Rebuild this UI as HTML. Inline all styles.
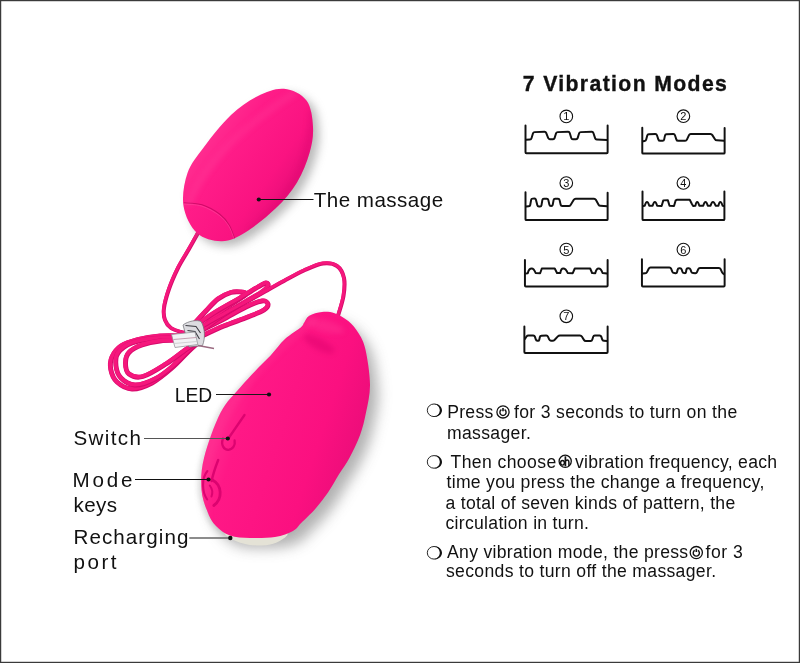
<!DOCTYPE html>
<html><head><meta charset="utf-8">
<style>
html,body{margin:0;padding:0;background:#fff;}
body{width:800px;height:663px;overflow:hidden;position:relative;}
svg{position:absolute;left:0;top:0;will-change:transform;}
</style></head>
<body>
<svg width="800" height="663" viewBox="0 0 800 663" font-family="Liberation Sans, sans-serif">
<defs>
  <linearGradient id="egg1" gradientUnits="userSpaceOnUse" x1="200" y1="132" x2="298" y2="199">
    <stop offset="0" stop-color="#ff3493"/>
    <stop offset="0.3" stop-color="#ff1c88"/>
    <stop offset="0.7" stop-color="#fa1381"/>
    <stop offset="1" stop-color="#e30c76"/>
  </linearGradient>
  <linearGradient id="egg2" gradientUnits="userSpaceOnUse" x1="205" y1="398" x2="370" y2="452">
    <stop offset="0" stop-color="#ff3896"/>
    <stop offset="0.25" stop-color="#ff1886"/>
    <stop offset="0.7" stop-color="#fb1080"/>
    <stop offset="1" stop-color="#e80c78"/>
  </linearGradient>
  <filter id="blur4" x="-30%" y="-30%" width="160%" height="160%"><feGaussianBlur stdDeviation="5"/></filter>
  <filter id="blur2" x="-50%" y="-50%" width="200%" height="200%"><feGaussianBlur stdDeviation="2.5"/></filter>
  <filter id="blur1" x="-50%" y="-50%" width="200%" height="200%"><feGaussianBlur stdDeviation="0.6"/></filter>
  <filter id="blur7" x="-40%" y="-40%" width="180%" height="180%"><feGaussianBlur stdDeviation="7"/></filter>
</defs>

<rect x="0" y="0" width="800" height="663" fill="#fff"/>
<!-- cords -->
<g fill="none" stroke-linecap="round" stroke-linejoin="round">
  <path d="M183.0,336.0 C179.2,336.0 167.5,335.4 160.0,336.0 C152.5,336.6 144.5,337.8 138.0,339.5 C131.5,341.2 125.3,343.1 121.0,346.0 C116.7,348.9 113.7,353.1 112.0,357.0 C110.3,360.9 110.0,365.3 110.8,369.5 C111.6,373.7 113.5,378.8 117.0,382.0 C120.5,385.2 126.2,388.8 132.0,389.0 C137.8,389.2 145.3,386.5 152.0,383.0 C158.7,379.5 166.0,373.2 172.0,368.0 C178.0,362.8 183.7,356.2 188.0,352.0 C192.3,347.8 196.3,344.5 198.0,343.0" stroke="#d60a6c" stroke-width="4.9"/>
  <path d="M183.0,336.0 C179.2,336.0 167.5,335.4 160.0,336.0 C152.5,336.6 144.5,337.8 138.0,339.5 C131.5,341.2 125.3,343.1 121.0,346.0 C116.7,348.9 113.7,353.1 112.0,357.0 C110.3,360.9 110.0,365.3 110.8,369.5 C111.6,373.7 113.5,378.8 117.0,382.0 C120.5,385.2 126.2,388.8 132.0,389.0 C137.8,389.2 145.3,386.5 152.0,383.0 C158.7,379.5 166.0,373.2 172.0,368.0 C178.0,362.8 183.7,356.2 188.0,352.0 C192.3,347.8 196.3,344.5 198.0,343.0" stroke="#f5177c" stroke-width="3.8" transform="translate(-0.3,-0.4)"/>
  <path d="M183.0,338.0 C178.3,338.1 163.5,337.7 155.0,338.5 C146.5,339.3 138.2,340.6 132.0,343.0 C125.8,345.4 120.7,349.2 118.0,353.0 C115.3,356.8 115.5,361.8 116.0,366.0 C116.5,370.2 117.8,374.8 121.0,378.0 C124.2,381.2 129.3,384.8 135.0,385.0 C140.7,385.2 148.7,382.2 155.0,379.0 C161.3,375.8 166.7,371.5 173.0,366.0 C179.3,360.5 189.7,349.3 193.0,346.0" stroke="#d60a6c" stroke-width="4.9"/>
  <path d="M183.0,338.0 C178.3,338.1 163.5,337.7 155.0,338.5 C146.5,339.3 138.2,340.6 132.0,343.0 C125.8,345.4 120.7,349.2 118.0,353.0 C115.3,356.8 115.5,361.8 116.0,366.0 C116.5,370.2 117.8,374.8 121.0,378.0 C124.2,381.2 129.3,384.8 135.0,385.0 C140.7,385.2 148.7,382.2 155.0,379.0 C161.3,375.8 166.7,371.5 173.0,366.0 C179.3,360.5 189.7,349.3 193.0,346.0" stroke="#f5177c" stroke-width="3.8" transform="translate(-0.3,-0.4)"/>
  <path d="M183.0,340.0 C179.2,340.2 166.8,340.2 160.0,341.0 C153.2,341.8 147.2,343.1 142.0,345.0 C136.8,346.9 131.8,349.5 129.0,352.5 C126.2,355.5 125.5,359.4 125.5,363.0 C125.5,366.6 126.1,371.8 129.0,374.0 C131.9,376.2 136.8,378.2 143.0,376.5 C149.2,374.8 158.8,368.5 166.0,364.0 C173.2,359.5 180.7,353.2 186.0,349.5 C191.3,345.8 196.0,343.2 198.0,342.0" stroke="#d60a6c" stroke-width="4.9"/>
  <path d="M183.0,340.0 C179.2,340.2 166.8,340.2 160.0,341.0 C153.2,341.8 147.2,343.1 142.0,345.0 C136.8,346.9 131.8,349.5 129.0,352.5 C126.2,355.5 125.5,359.4 125.5,363.0 C125.5,366.6 126.1,371.8 129.0,374.0 C131.9,376.2 136.8,378.2 143.0,376.5 C149.2,374.8 158.8,368.5 166.0,364.0 C173.2,359.5 180.7,353.2 186.0,349.5 C191.3,345.8 196.0,343.2 198.0,342.0" stroke="#f5177c" stroke-width="3.8" transform="translate(-0.3,-0.4)"/>
  <path d="M194.0,324.0 C196.0,321.8 202.0,315.2 206.0,311.0 C210.0,306.8 213.8,302.1 218.0,299.0 C222.2,295.9 227.2,293.7 231.0,292.5 C234.8,291.3 238.5,291.8 241.0,292.0 C243.5,292.2 246.5,292.7 246.0,294.0 C245.5,295.3 242.7,296.7 238.0,300.0 C233.3,303.3 224.3,309.0 218.0,314.0 C211.7,319.0 203.0,327.3 200.0,330.0" stroke="#d60a6c" stroke-width="4.9"/>
  <path d="M194.0,324.0 C196.0,321.8 202.0,315.2 206.0,311.0 C210.0,306.8 213.8,302.1 218.0,299.0 C222.2,295.9 227.2,293.7 231.0,292.5 C234.8,291.3 238.5,291.8 241.0,292.0 C243.5,292.2 246.5,292.7 246.0,294.0 C245.5,295.3 242.7,296.7 238.0,300.0 C233.3,303.3 224.3,309.0 218.0,314.0 C211.7,319.0 203.0,327.3 200.0,330.0" stroke="#f5177c" stroke-width="3.8" transform="translate(-0.3,-0.4)"/>
  <path d="M198.0,332.0 C202.0,330.0 214.0,324.2 222.0,320.0 C230.0,315.8 239.3,310.2 246.0,307.0 C252.7,303.8 258.3,301.5 262.0,301.0 C265.7,300.5 267.7,302.5 268.0,304.0 C268.3,305.5 267.3,307.8 264.0,310.0 C260.7,312.2 254.7,314.3 248.0,317.0 C241.3,319.7 231.3,323.0 224.0,326.0 C216.7,329.0 207.3,333.5 204.0,335.0" stroke="#d60a6c" stroke-width="4.9"/>
  <path d="M198.0,332.0 C202.0,330.0 214.0,324.2 222.0,320.0 C230.0,315.8 239.3,310.2 246.0,307.0 C252.7,303.8 258.3,301.5 262.0,301.0 C265.7,300.5 267.7,302.5 268.0,304.0 C268.3,305.5 267.3,307.8 264.0,310.0 C260.7,312.2 254.7,314.3 248.0,317.0 C241.3,319.7 231.3,323.0 224.0,326.0 C216.7,329.0 207.3,333.5 204.0,335.0" stroke="#f5177c" stroke-width="3.8" transform="translate(-0.3,-0.4)"/>
  <path d="M194.0,327.0 C197.3,324.7 206.3,317.8 214.0,313.0 C221.7,308.2 232.7,302.3 240.0,298.0 C247.3,293.7 253.7,289.5 258.0,287.0 C262.3,284.5 264.3,283.2 266.0,283.0 C267.7,282.8 268.7,284.5 268.0,286.0 C267.3,287.5 265.8,289.3 262.0,292.0 C258.2,294.7 251.7,298.0 245.0,302.0 C238.3,306.0 228.8,311.5 222.0,316.0 C215.2,320.5 207.0,326.8 204.0,329.0" stroke="#d60a6c" stroke-width="4.9"/>
  <path d="M194.0,327.0 C197.3,324.7 206.3,317.8 214.0,313.0 C221.7,308.2 232.7,302.3 240.0,298.0 C247.3,293.7 253.7,289.5 258.0,287.0 C262.3,284.5 264.3,283.2 266.0,283.0 C267.7,282.8 268.7,284.5 268.0,286.0 C267.3,287.5 265.8,289.3 262.0,292.0 C258.2,294.7 251.7,298.0 245.0,302.0 C238.3,306.0 228.8,311.5 222.0,316.0 C215.2,320.5 207.0,326.8 204.0,329.0" stroke="#f5177c" stroke-width="3.8" transform="translate(-0.3,-0.4)"/>
  <path d="M198.0,233.0 C196.5,235.7 192.3,243.2 189.0,249.0 C185.7,254.8 181.3,261.3 178.0,268.0 C174.7,274.7 171.3,282.3 169.0,289.0 C166.7,295.7 164.7,302.8 164.0,308.0 C163.3,313.2 163.8,316.7 165.0,320.0 C166.2,323.3 168.3,326.0 171.0,328.0 C173.7,330.0 177.5,331.0 181.0,332.0 C184.5,333.0 190.2,333.7 192.0,334.0" stroke="#d60a6c" stroke-width="4.0"/>
  <path d="M198.0,233.0 C196.5,235.7 192.3,243.2 189.0,249.0 C185.7,254.8 181.3,261.3 178.0,268.0 C174.7,274.7 171.3,282.3 169.0,289.0 C166.7,295.7 164.7,302.8 164.0,308.0 C163.3,313.2 163.8,316.7 165.0,320.0 C166.2,323.3 168.3,326.0 171.0,328.0 C173.7,330.0 177.5,331.0 181.0,332.0 C184.5,333.0 190.2,333.7 192.0,334.0" stroke="#f5177c" stroke-width="3.0" transform="translate(-0.3,-0.4)"/>
  <path d="M338.0,316.0 C338.9,312.7 342.5,302.3 343.5,296.0 C344.5,289.7 345.1,283.0 344.0,278.0 C342.9,273.0 340.5,268.4 337.0,266.0 C333.5,263.6 328.5,262.8 323.0,263.5 C317.5,264.2 310.5,267.6 304.0,270.5 C297.5,273.4 290.3,277.6 284.0,281.0 C277.7,284.4 271.7,287.8 266.0,291.0 C260.3,294.2 256.3,296.5 250.0,300.0 C243.7,303.5 235.5,307.8 228.0,312.0 C220.5,316.2 211.0,321.7 205.0,325.0 C199.0,328.3 194.2,330.8 192.0,332.0" stroke="#d60a6c" stroke-width="4.0"/>
  <path d="M338.0,316.0 C338.9,312.7 342.5,302.3 343.5,296.0 C344.5,289.7 345.1,283.0 344.0,278.0 C342.9,273.0 340.5,268.4 337.0,266.0 C333.5,263.6 328.5,262.8 323.0,263.5 C317.5,264.2 310.5,267.6 304.0,270.5 C297.5,273.4 290.3,277.6 284.0,281.0 C277.7,284.4 271.7,287.8 266.0,291.0 C260.3,294.2 256.3,296.5 250.0,300.0 C243.7,303.5 235.5,307.8 228.0,312.0 C220.5,316.2 211.0,321.7 205.0,325.0 C199.0,328.3 194.2,330.8 192.0,332.0" stroke="#f5177c" stroke-width="3.0" transform="translate(-0.3,-0.4)"/>
</g>
<g id="clip">
  <path d="M183,325 C188,321 197,319.5 201,321.5 C205,328 205.5,338 202.5,345.5 L189,347 Z" fill="#dcdce0" stroke="#6a6a70" stroke-width="0.7"/>
  <path d="M185.5,325.5 L196,326.5 L200.5,333 M187.5,330.5 L195,331.5 L199.5,339" fill="none" stroke="#3c3c42" stroke-width="1.1"/>
  <path d="M171.5,334.5 L195,332 L197.8,344.5 L175,347.5 Z" fill="#f2f2f4" stroke="#8c8c92" stroke-width="0.7"/>
  <path d="M173.5,339.5 L196.2,337.5" stroke="#b98aa0" stroke-width="0.8"/>
  <path d="M174,343.5 L197,341.5" stroke="#c8c8cc" stroke-width="0.8"/>
  <path d="M198,345.5 L214,348.5" stroke="#9a6a80" stroke-width="1.3"/>
</g>
<!-- small egg -->
<g id="smallegg">
  <path d="M284.0,88.8 C292.1,89.5 301.7,94.1 306.5,100.5 C311.3,106.9 312.5,118.2 313.0,127.0 C313.5,135.8 312.2,143.8 309.5,153.0 C306.8,162.2 302.6,173.3 297.0,182.5 C291.4,191.7 284.5,199.9 276.0,208.1 C267.5,216.3 255.0,226.4 246.0,231.9 C237.0,237.4 230.2,241.0 222.0,241.2 C213.8,241.4 203.4,238.9 197.0,233.0 C190.6,227.1 185.1,216.0 183.5,206.0 C181.9,196.0 184.1,182.8 187.5,173.0 C190.9,163.2 196.8,156.7 204.0,147.0 C211.2,137.3 222.0,123.5 231.0,115.0 C240.0,106.5 249.2,100.4 258.0,96.0 C266.8,91.6 275.9,88.0 284.0,88.8 Z" fill="#777" opacity="0.5" transform="translate(6,5)" filter="url(#blur4)"/>
  <path d="M284.0,88.8 C292.1,89.5 301.7,94.1 306.5,100.5 C311.3,106.9 312.5,118.2 313.0,127.0 C313.5,135.8 312.2,143.8 309.5,153.0 C306.8,162.2 302.6,173.3 297.0,182.5 C291.4,191.7 284.5,199.9 276.0,208.1 C267.5,216.3 255.0,226.4 246.0,231.9 C237.0,237.4 230.2,241.0 222.0,241.2 C213.8,241.4 203.4,238.9 197.0,233.0 C190.6,227.1 185.1,216.0 183.5,206.0 C181.9,196.0 184.1,182.8 187.5,173.0 C190.9,163.2 196.8,156.7 204.0,147.0 C211.2,137.3 222.0,123.5 231.0,115.0 C240.0,106.5 249.2,100.4 258.0,96.0 C266.8,91.6 275.9,88.0 284.0,88.8 Z" fill="url(#egg1)"/>
  <clipPath id="smallclip"><path d="M284.0,88.8 C292.1,89.5 301.7,94.1 306.5,100.5 C311.3,106.9 312.5,118.2 313.0,127.0 C313.5,135.8 312.2,143.8 309.5,153.0 C306.8,162.2 302.6,173.3 297.0,182.5 C291.4,191.7 284.5,199.9 276.0,208.1 C267.5,216.3 255.0,226.4 246.0,231.9 C237.0,237.4 230.2,241.0 222.0,241.2 C213.8,241.4 203.4,238.9 197.0,233.0 C190.6,227.1 185.1,216.0 183.5,206.0 C181.9,196.0 184.1,182.8 187.5,173.0 C190.9,163.2 196.8,156.7 204.0,147.0 C211.2,137.3 222.0,123.5 231.0,115.0 C240.0,106.5 249.2,100.4 258.0,96.0 C266.8,91.6 275.9,88.0 284.0,88.8 Z"/></clipPath>
  <g clip-path="url(#smallclip)">
  <path d="M183.8,202.8 C186.9,203.1 196.1,202.9 202.1,204.8 C208.1,206.7 215.3,210.9 219.8,214.3 C224.3,217.7 226.8,221.1 229.3,225.2 C231.8,229.3 233.8,236.4 234.7,238.7" fill="none" stroke="#d00a68" stroke-width="1.1"/>
  <path d="M183.8,202.8 C186.9,203.1 196.1,202.9 202.1,204.8 C208.1,206.7 215.3,210.9 219.8,214.3 C224.3,217.7 226.8,221.1 229.3,225.2 C231.8,229.3 233.8,236.4 234.7,238.7" fill="none" stroke="#ff4a9e" stroke-width="0.8" transform="translate(-0.3,1.3)" opacity="0.7"/>
    <path d="M296,92 C275,105 240,130 215,160 C200,178 192,195 188,205" fill="none" stroke="#ff4aa0" stroke-width="8" opacity="0.22" filter="url(#blur2)"/>
    <path d="M312,110 C312,150 300,190 250,232" fill="none" stroke="#d8006c" stroke-width="7" opacity="0.25" filter="url(#blur2)"/>
  </g>
</g>
<!-- big egg -->
<g id="bigegg">
  <path d="M322.0,312.0 C326.2,311.6 330.2,311.7 334.6,313.2 C339.0,314.7 344.2,317.7 348.3,321.1 C352.4,324.5 356.0,329.0 358.9,333.8 C361.8,338.6 363.6,341.4 365.5,349.8 C367.4,358.2 369.9,374.0 370.0,384.5 C370.1,395.0 367.7,404.2 366.0,412.6 C364.3,421.1 362.8,427.6 360.0,435.2 C357.2,442.8 352.9,451.4 349.4,457.9 C345.9,464.4 342.6,468.5 339.0,474.3 C335.4,480.1 331.9,486.8 328.0,492.5 C324.1,498.2 319.9,503.7 315.4,508.8 C310.9,513.9 304.6,519.6 300.9,523.3 C297.2,527.0 297.3,528.7 293.0,531.0 C288.7,533.3 282.2,535.8 275.0,537.0 C267.8,538.2 257.5,538.2 250.0,538.0 C242.5,537.8 235.7,537.5 230.0,535.5 C224.3,533.5 219.7,529.8 216.0,526.0 C212.3,522.2 210.4,519.0 208.0,513.0 C205.6,507.0 202.2,499.2 201.5,490.0 C200.8,480.8 200.8,470.8 204.0,457.9 C207.2,445.0 214.6,424.3 220.6,412.6 C226.6,400.9 234.4,394.4 240.2,387.5 C246.0,380.6 250.3,376.2 255.3,370.9 C260.3,365.6 265.4,361.1 270.4,355.8 C275.3,350.5 279.9,343.7 285.0,339.0 C290.1,334.3 297.6,330.1 300.8,327.4 C304.0,324.7 302.6,324.9 304.0,323.0 C305.4,321.1 306.3,317.6 309.3,315.8 C312.3,314.0 317.8,312.4 322.0,312.0 Z" fill="#666" opacity="0.5" transform="translate(8,10)" filter="url(#blur7)"/>
  <path d="M322.0,312.0 C326.2,311.6 330.2,311.7 334.6,313.2 C339.0,314.7 344.2,317.7 348.3,321.1 C352.4,324.5 356.0,329.0 358.9,333.8 C361.8,338.6 363.6,341.4 365.5,349.8 C367.4,358.2 369.9,374.0 370.0,384.5 C370.1,395.0 367.7,404.2 366.0,412.6 C364.3,421.1 362.8,427.6 360.0,435.2 C357.2,442.8 352.9,451.4 349.4,457.9 C345.9,464.4 342.6,468.5 339.0,474.3 C335.4,480.1 331.9,486.8 328.0,492.5 C324.1,498.2 319.9,503.7 315.4,508.8 C310.9,513.9 304.6,519.6 300.9,523.3 C297.2,527.0 297.3,528.7 293.0,531.0 C288.7,533.3 282.2,535.8 275.0,537.0 C267.8,538.2 257.5,538.2 250.0,538.0 C242.5,537.8 235.7,537.5 230.0,535.5 C224.3,533.5 219.7,529.8 216.0,526.0 C212.3,522.2 210.4,519.0 208.0,513.0 C205.6,507.0 202.2,499.2 201.5,490.0 C200.8,480.8 200.8,470.8 204.0,457.9 C207.2,445.0 214.6,424.3 220.6,412.6 C226.6,400.9 234.4,394.4 240.2,387.5 C246.0,380.6 250.3,376.2 255.3,370.9 C260.3,365.6 265.4,361.1 270.4,355.8 C275.3,350.5 279.9,343.7 285.0,339.0 C290.1,334.3 297.6,330.1 300.8,327.4 C304.0,324.7 302.6,324.9 304.0,323.0 C305.4,321.1 306.3,317.6 309.3,315.8 C312.3,314.0 317.8,312.4 322.0,312.0 Z" fill="#999" opacity="0.3" transform="translate(-3,1)" filter="url(#blur2)"/>
  <path d="M222,527 L225.5,535 C236,543.5 250,546 262,545.5 C274,545 282,541 287.5,535 L288,528 Z" fill="#e4e2d6"/>
  <path d="M322.0,312.0 C326.2,311.6 330.2,311.7 334.6,313.2 C339.0,314.7 344.2,317.7 348.3,321.1 C352.4,324.5 356.0,329.0 358.9,333.8 C361.8,338.6 363.6,341.4 365.5,349.8 C367.4,358.2 369.9,374.0 370.0,384.5 C370.1,395.0 367.7,404.2 366.0,412.6 C364.3,421.1 362.8,427.6 360.0,435.2 C357.2,442.8 352.9,451.4 349.4,457.9 C345.9,464.4 342.6,468.5 339.0,474.3 C335.4,480.1 331.9,486.8 328.0,492.5 C324.1,498.2 319.9,503.7 315.4,508.8 C310.9,513.9 304.6,519.6 300.9,523.3 C297.2,527.0 297.3,528.7 293.0,531.0 C288.7,533.3 282.2,535.8 275.0,537.0 C267.8,538.2 257.5,538.2 250.0,538.0 C242.5,537.8 235.7,537.5 230.0,535.5 C224.3,533.5 219.7,529.8 216.0,526.0 C212.3,522.2 210.4,519.0 208.0,513.0 C205.6,507.0 202.2,499.2 201.5,490.0 C200.8,480.8 200.8,470.8 204.0,457.9 C207.2,445.0 214.6,424.3 220.6,412.6 C226.6,400.9 234.4,394.4 240.2,387.5 C246.0,380.6 250.3,376.2 255.3,370.9 C260.3,365.6 265.4,361.1 270.4,355.8 C275.3,350.5 279.9,343.7 285.0,339.0 C290.1,334.3 297.6,330.1 300.8,327.4 C304.0,324.7 302.6,324.9 304.0,323.0 C305.4,321.1 306.3,317.6 309.3,315.8 C312.3,314.0 317.8,312.4 322.0,312.0 Z" fill="url(#egg2)"/>
  <clipPath id="bigclip"><path d="M322.0,312.0 C326.2,311.6 330.2,311.7 334.6,313.2 C339.0,314.7 344.2,317.7 348.3,321.1 C352.4,324.5 356.0,329.0 358.9,333.8 C361.8,338.6 363.6,341.4 365.5,349.8 C367.4,358.2 369.9,374.0 370.0,384.5 C370.1,395.0 367.7,404.2 366.0,412.6 C364.3,421.1 362.8,427.6 360.0,435.2 C357.2,442.8 352.9,451.4 349.4,457.9 C345.9,464.4 342.6,468.5 339.0,474.3 C335.4,480.1 331.9,486.8 328.0,492.5 C324.1,498.2 319.9,503.7 315.4,508.8 C310.9,513.9 304.6,519.6 300.9,523.3 C297.2,527.0 297.3,528.7 293.0,531.0 C288.7,533.3 282.2,535.8 275.0,537.0 C267.8,538.2 257.5,538.2 250.0,538.0 C242.5,537.8 235.7,537.5 230.0,535.5 C224.3,533.5 219.7,529.8 216.0,526.0 C212.3,522.2 210.4,519.0 208.0,513.0 C205.6,507.0 202.2,499.2 201.5,490.0 C200.8,480.8 200.8,470.8 204.0,457.9 C207.2,445.0 214.6,424.3 220.6,412.6 C226.6,400.9 234.4,394.4 240.2,387.5 C246.0,380.6 250.3,376.2 255.3,370.9 C260.3,365.6 265.4,361.1 270.4,355.8 C275.3,350.5 279.9,343.7 285.0,339.0 C290.1,334.3 297.6,330.1 300.8,327.4 C304.0,324.7 302.6,324.9 304.0,323.0 C305.4,321.1 306.3,317.6 309.3,315.8 C312.3,314.0 317.8,312.4 322.0,312.0 Z"/></clipPath>
  <g clip-path="url(#bigclip)">
    <ellipse cx="319" cy="344" rx="17" ry="5.5" transform="rotate(28 319 344)" fill="#dc006c" opacity="0.45" filter="url(#blur2)"/>
    <ellipse cx="325" cy="326" rx="20" ry="6" transform="rotate(15 325 326)" fill="#ff3c98" opacity="0.35" filter="url(#blur2)"/>
    <path d="M205,520 C200,470 215,420 250,380 C275,350 295,335 315,318" fill="none" stroke="#ff3c96" stroke-width="8" opacity="0.25" filter="url(#blur2)"/>
  </g>
  <g fill="none" stroke="#dc0470" stroke-linecap="round">
    <path d="M244.5,415 L229,437.5" stroke-width="2.3"/>
    <path d="M223,438.5 C220.5,445 224,450 228.5,449.8 C233,449.5 235.5,445 234.6,440.5" stroke-width="2.3"/>
    <path d="M218.2,460 C215.5,467 213,474 211.6,481" stroke-width="2.4"/>
    <path d="M207.4,471 C201.5,478 201.8,492 207.2,499.5" stroke-width="2.1"/>
    <path d="M212.5,480 C222,485 223,499 213.8,505.5" stroke-width="2.8"/>
    <path d="M209.8,485.5 C212.5,489 212.8,493 211.5,496.5" stroke-width="2"/>
  </g>
</g>

<g stroke-width="1">
  <line x1="259" y1="199.5" x2="313.5" y2="199.5" stroke="#111"/>
  <line x1="216" y1="394.5" x2="269" y2="394.5" stroke="#1a1a1a"/>
  <line x1="144" y1="438.5" x2="228" y2="438.5" stroke="#555"/>
  <line x1="135" y1="479.5" x2="208.5" y2="479.5" stroke="#111"/>
  <line x1="189.3" y1="538" x2="230.5" y2="538" stroke="#666" stroke-width="1.3"/>
</g>
<g fill="#111">
  <circle cx="258.8" cy="199.5" r="2.1"/>
  <circle cx="269" cy="394.5" r="2.1"/>
  <circle cx="227.8" cy="438.5" r="2.1"/>
  <circle cx="208.5" cy="479.5" r="2.1"/>
  <circle cx="230.3" cy="538" r="2.2"/>
</g>

<g fill="#111">
<text x="447.25" y="417.6" font-size="17.6" textLength="45.98" lengthAdjust="spacing">Press</text>
<text x="514.00" y="417.6" font-size="17.6" textLength="223.20" lengthAdjust="spacing">for 3 seconds to turn on the</text>
<text x="447.00" y="438.9" font-size="17.6" textLength="83.77" lengthAdjust="spacing">massager.</text>
<text x="450.50" y="467.8" font-size="17.6" textLength="105.73" lengthAdjust="spacing">Then choose</text>
<text x="575.00" y="467.8" font-size="17.6" textLength="202.08" lengthAdjust="spacing">vibration frequency, each</text>
<text x="446.50" y="488.2" font-size="17.6" textLength="317.77" lengthAdjust="spacing">time you press the change a frequency,</text>
<text x="445.50" y="508.6" font-size="17.6" textLength="289.75" lengthAdjust="spacing">a total of seven kinds of pattern, the</text>
<text x="445.50" y="529.1" font-size="17.6" textLength="143.49" lengthAdjust="spacing">circulation in turn.</text>
<text x="447.00" y="557.9" font-size="17.6" textLength="241.15" lengthAdjust="spacing">Any vibration mode, the press</text>
<text x="705.50" y="557.9" font-size="17.6" textLength="37.42" lengthAdjust="spacing">for 3</text>
<text x="446.00" y="577.4" font-size="17.6" textLength="270.03" lengthAdjust="spacing">seconds to turn off the massager.</text>
<text x="522.75" y="90.9" font-size="21.2" font-weight="bold" stroke="#111" stroke-width="0.35" textLength="204.09" lengthAdjust="spacing">7 Vibration Modes</text>
<text x="313.75" y="206.7" font-size="20.6" textLength="129.38" lengthAdjust="spacing">The massage</text>
<text x="174.75" y="401.9" font-size="20.6" textLength="37.46" lengthAdjust="spacingAndGlyphs">LED</text>
<text x="73.50" y="444.9" font-size="20.6" textLength="67.46" lengthAdjust="spacing">Switch</text>
<text x="72.50" y="486.7" font-size="20.6" textLength="59.92" lengthAdjust="spacing">Mode</text>
<text x="73.50" y="512.1" font-size="20.6" textLength="43.56" lengthAdjust="spacing">keys</text>
<text x="73.50" y="543.6" font-size="20.6" textLength="114.93" lengthAdjust="spacing">Recharging</text>
<text x="73.50" y="568.7" font-size="20.6" textLength="43.10" lengthAdjust="spacing">port</text>
</g>
<!-- waveforms -->
<g fill="none" stroke="#111" stroke-width="17.5" stroke-linejoin="round" stroke-linecap="round">
  <g transform="translate(521,120) scale(0.1125)">
    <path d="M40.0,48.0 L40.0,287.0 Q40.0,295.0 48.0,295.0 L762.0,295.0 Q770.0,295.0 770.0,287.0 L770.0,48.0"/>
    <path d="M45.0,175.0 L79.0,173.5 Q90.0,173.0 93.2,162.5 L106.8,118.5 Q110.0,108.0 121.0,107.7 L209.0,105.3 Q220.0,105.0 223.9,115.3 L241.1,159.7 Q245.0,170.0 256.0,170.4 L284.0,171.6 Q295.0,172.0 298.3,161.5 L311.7,118.5 Q315.0,108.0 326.0,107.7 L419.0,105.3 Q430.0,105.0 433.2,115.5 L446.8,159.5 Q450.0,170.0 461.0,170.4 L489.0,171.6 Q500.0,172.0 503.3,161.5 L516.7,118.5 Q520.0,108.0 531.0,107.7 L629.0,105.3 Q640.0,105.0 643.4,115.5 L658.6,161.5 Q662.0,172.0 673.0,172.5 L765.0,177.0"/>
  </g>
  <g transform="translate(638,120) scale(0.1125)">
    <path d="M38.0,68.0 L38.0,290.0 Q38.0,298.0 46.0,298.0 L762.0,298.0 Q770.0,298.0 770.0,290.0 L770.0,72.0"/>
    <path d="M45.0,188.0 L59.1,186.3 Q70.0,185.0 72.8,174.4 L82.2,138.6 Q85.0,128.0 96.0,127.6 L154.0,125.4 Q165.0,125.0 168.5,135.4 L181.5,174.6 Q185.0,185.0 196.0,185.0 L219.0,185.0 Q230.0,185.0 232.3,174.2 L239.7,138.8 Q242.0,128.0 253.0,127.6 L314.0,125.4 Q325.0,125.0 328.5,135.4 L341.5,174.6 Q345.0,185.0 356.0,185.0 L419.0,185.0 Q430.0,185.0 434.7,175.0 L453.3,135.0 Q458.0,125.0 469.0,125.0 L644.0,125.0 Q655.0,125.0 660.9,134.3 L684.1,170.7 Q690.0,180.0 701.0,180.7 L765.0,185.0"/>
  </g>
  <g transform="translate(521,188) scale(0.1125)">
    <path d="M40.0,38.0 L40.0,277.0 Q40.0,285.0 48.0,285.0 L762.0,285.0 Q770.0,285.0 770.0,277.0 L770.0,42.0"/>
    <path d="M45.0,165.0 L69.0,162.9 Q80.0,162.0 81.9,151.2 L90.1,105.8 Q92.0,95.0 103.0,94.4 L119.0,93.6 Q130.0,93.0 132.7,103.7 L145.3,154.3 Q148.0,165.0 159.0,165.0 L169.0,165.0 Q180.0,165.0 181.9,154.2 L190.1,105.8 Q192.0,95.0 203.0,95.0 L229.0,95.0 Q240.0,95.0 242.5,105.7 L252.5,149.3 Q255.0,160.0 266.0,160.0 L269.0,160.0 Q280.0,160.0 282.0,149.2 L290.0,105.8 Q292.0,95.0 303.0,95.0 L329.0,95.0 Q340.0,95.0 342.5,105.7 L352.5,149.3 Q355.0,160.0 366.0,160.0 L424.0,160.0 Q435.0,160.0 440.8,150.6 L469.2,104.4 Q475.0,95.0 486.0,95.0 L649.0,95.0 Q660.0,95.0 665.3,104.6 L689.7,148.4 Q695.0,158.0 706.0,158.6 L765.0,162.0"/>
  </g>
  <g transform="translate(638,188) scale(0.1125)">
    <path d="M40.0,30.0 L40.0,277.0 Q40.0,285.0 48.0,285.0 L760.0,285.0 Q768.0,285.0 768.0,277.0 L768.0,30.0"/>
    <path d="M45,160 L60,158 Q80,92 100,158 L130,158 Q150,92 170,158 L210,160 L225,110 L265,108 L280,158 L320,160 L335,110 L345,105 L460,105 L478,140 L490,160 L510,158 Q525,92 545,158 L580,158 Q600,92 620,158 L645,158 Q665,92 690,158 L715,158 Q730,92 752,158 L765,160"/>
  </g>
  <g transform="translate(521,255) scale(0.1125)">
    <path d="M35.0,45.0 L35.0,272.0 Q35.0,280.0 43.0,280.0 L762.0,280.0 Q770.0,280.0 770.0,272.0 L770.0,45.0"/>
    <path d="M40,165 L60,162 Q70,120 95,120 Q115,120 130,160 L170,162 L185,120 L300,120 L320,160 L350,160 Q355,120 375,120 Q400,120 415,160 L460,162 L478,120 L615,120 L632,160 L660,162 Q670,120 690,120 Q712,120 725,160 L765,165"/>
  </g>
  <g transform="translate(638,255) scale(0.1125)">
    <path d="M35.0,38.0 L35.0,272.0 Q35.0,280.0 43.0,280.0 L762.0,280.0 Q770.0,280.0 770.0,272.0 L770.0,38.0"/>
    <path d="M40.0,165.0 L64.0,162.9 Q75.0,162.0 79.9,152.2 L95.1,121.8 Q100.0,112.0 111.0,112.0 L279.0,112.0 Q290.0,112.0 294.2,122.2 L305.8,149.8 Q310.0,160.0 321.0,160.6 L334.0,161.4 Q345.0,162.0 347.4,151.3 L352.6,128.7 Q355.0,118.0 366.0,118.0 L374.0,118.0 Q385.0,118.0 388.3,128.5 L394.7,149.5 Q398.0,160.0 409.0,160.8 L414.0,161.2 Q425.0,162.0 426.7,151.1 L430.3,128.9 Q432.0,118.0 443.0,118.0 L451.0,118.0 Q462.0,118.0 465.9,128.3 L474.1,149.7 Q478.0,160.0 489.0,160.5 L509.0,161.5 Q520.0,162.0 524.3,151.9 L535.7,125.1 Q540.0,115.0 551.0,115.0 L719.0,115.0 Q730.0,115.0 734.5,125.1 L746.3,151.8 Q750.0,160.0 757.5,165.0 L765.0,170.0"/>
  </g>
  <g transform="translate(521,322) scale(0.1125)">
    <path d="M30.0,40.0 L30.0,267.0 Q30.0,275.0 38.0,275.0 L762.0,275.0 Q770.0,275.0 770.0,267.0 L770.0,40.0"/>
    <path d="M35.0,150.0 L48.9,129.2 Q55.0,120.0 66.0,120.0 L109.0,120.0 Q120.0,120.0 123.5,130.4 L131.5,154.6 Q135.0,165.0 145.9,166.3 L149.1,166.7 Q160.0,168.0 162.3,157.3 L167.7,132.7 Q170.0,122.0 181.0,121.7 L224.0,120.3 Q235.0,120.0 239.5,130.1 L250.5,154.9 Q255.0,165.0 266.0,165.9 L279.0,167.1 Q290.0,168.0 297.5,160.0 L327.5,128.0 Q335.0,120.0 346.0,120.0 L524.0,120.0 Q535.0,120.0 540.8,129.3 L559.2,158.7 Q565.0,168.0 576.0,168.0 L619.0,168.0 Q630.0,168.0 633.3,157.5 L641.7,130.5 Q645.0,120.0 656.0,120.0 L699.0,120.0 Q710.0,120.0 713.5,130.4 L721.5,154.6 Q725.0,165.0 736.0,165.8 L765.0,168.0"/>
  </g>
</g>
<!-- circled numbers -->
<g fill="none" stroke="#111" stroke-width="1.1">
  <circle cx="566.3" cy="116.4" r="6.3"/>
  <circle cx="683.4" cy="116.2" r="6.3"/>
  <circle cx="566.3" cy="183" r="6.3"/>
  <circle cx="683.4" cy="183" r="6.3"/>
  <circle cx="566.3" cy="249.5" r="6.3"/>
  <circle cx="683.4" cy="249.5" r="6.3"/>
  <circle cx="566.3" cy="316.3" r="6.3"/>
</g>
<g fill="#111" font-size="11" text-anchor="middle">
  <text x="566.3" y="120.4">1</text>
  <text x="683.4" y="120.2">2</text>
  <text x="566.3" y="187">3</text>
  <text x="683.4" y="187">4</text>
  <text x="566.3" y="253.5">5</text>
  <text x="683.4" y="253.5">6</text>
  <text x="566.3" y="320.3">7</text>
</g>


<!-- bullets -->
<g id="bul">
  <g transform="translate(434.4,410.3)">
    <ellipse cx="-0.4" cy="0" rx="6.7" ry="6.3" fill="none" stroke="#111" stroke-width="0.9"/>
    <path d="M0,-6.6 C5,-6.6 7.6,-3 7.6,0 C7.6,3 5,6.6 0,6.6 C3.6,5.6 5.4,3 5.4,0 C5.4,-3 3.6,-5.6 0,-6.6 Z" fill="#111"/>
  </g>
  <g transform="translate(434.4,461.9)">
    <ellipse cx="-0.4" cy="0" rx="6.7" ry="6.3" fill="none" stroke="#111" stroke-width="0.9"/>
    <path d="M0,-6.6 C5,-6.6 7.6,-3 7.6,0 C7.6,3 5,6.6 0,6.6 C3.6,5.6 5.4,3 5.4,0 C5.4,-3 3.6,-5.6 0,-6.6 Z" fill="#111"/>
  </g>
  <g transform="translate(434.4,552.8)">
    <ellipse cx="-0.4" cy="0" rx="6.7" ry="6.3" fill="none" stroke="#111" stroke-width="0.9"/>
    <path d="M0,-6.6 C5,-6.6 7.6,-3 7.6,0 C7.6,3 5,6.6 0,6.6 C3.6,5.6 5.4,3 5.4,0 C5.4,-3 3.6,-5.6 0,-6.6 Z" fill="#111"/>
  </g>
</g>
<!-- power icons -->
<g fill="none" stroke="#111" stroke-width="1.3">
  <g transform="translate(503,411.9)">
    <circle r="6.1"/>
    <path d="M-1.6,-2.2 A3.1,3.1 0 1 0 1.6,-2.2" stroke-width="1.4"/>
    <line x1="0" y1="-3.8" x2="0" y2="-0.6" stroke-width="1.6"/>
  </g>
  <g transform="translate(696.3,552.6)">
    <circle r="6.1"/>
    <path d="M-1.6,-2.2 A3.1,3.1 0 1 0 1.6,-2.2" stroke-width="1.4"/>
    <line x1="0" y1="-3.8" x2="0" y2="-0.6" stroke-width="1.6"/>
  </g>
  <g transform="translate(565.2,461.3)">
    <circle r="6.1"/>
  </g>
</g>
<g fill="none" stroke="#111" stroke-linecap="butt">
  <line x1="565.4" y1="456.3" x2="565.4" y2="466.3" stroke-width="1.7"/>
  <ellipse cx="562.5" cy="462.8" rx="1.9" ry="2.3" stroke-width="1.4"/>
  <path d="M565.4,461 Q568.9,458.6 568.9,462.6 V466" stroke-width="1.5"/>
</g>

<rect x="0.6" y="0.6" width="798.8" height="661.8" fill="none" stroke="#3a3a3a" stroke-width="1.25"/>
</svg>
</body></html>
